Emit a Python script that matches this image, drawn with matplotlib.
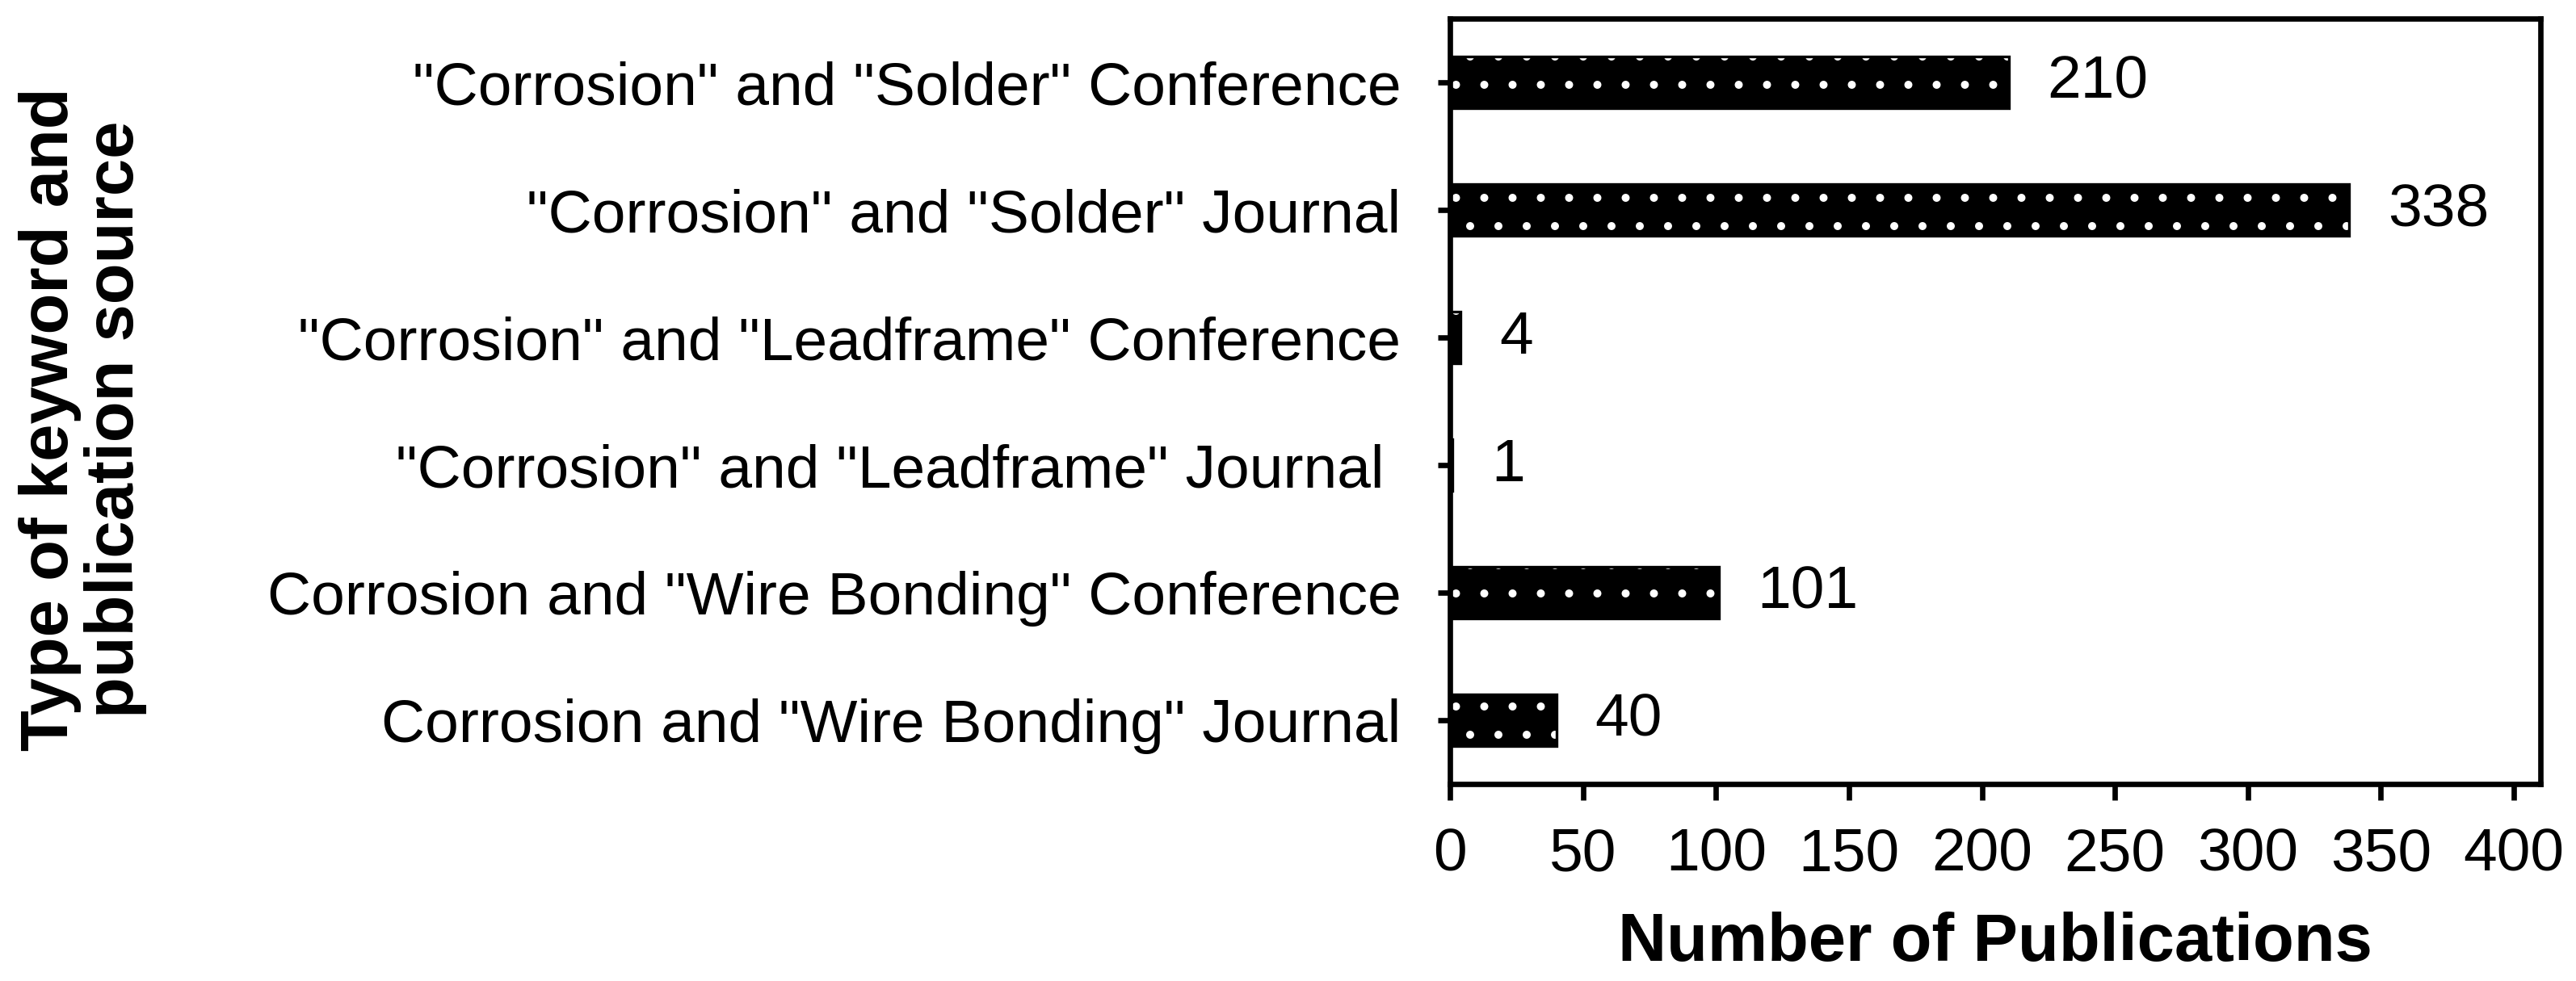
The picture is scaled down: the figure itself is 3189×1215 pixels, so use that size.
import matplotlib.pyplot as plt
import numpy as np

categories = ['"Corrosion" and "Solder" Conference',
              '"Corrosion" and "Solder" Journal',
              '"Corrosion" and "Leadframe" Conference',
              '"Corrosion" and "Leadframe" Journal ',
              'Corrosion and "Wire Bonding" Conference',
              'Corrosion and "Wire Bonding" Journal']
publications = [210, 338, 4, 1, 101, 40]
xticks = [0, 50, 100, 150, 200, 250, 300, 350, 400]

# hatch spacing follows the dpi, so use 210 dpi and scale point sizes to match
DPI = 210
k = 300 / DPI

plt.rcParams['font.family'] = ['Liberation Sans', 'DejaVu Sans']
plt.rcParams['hatch.linewidth'] = 1.0

fig = plt.figure(figsize=(3189 / DPI, 1215 / DPI), dpi=DPI)
ax = fig.add_axes([0.5629, 0.2008, 0.4233, 0.7802])

y = np.arange(len(categories))
ax.barh(y, publications, height=0.4, color='black', edgecolor='white',
        linewidth=0, hatch='.')
ax.barh(y, publications, height=0.4, color='none', edgecolor='black',
        linewidth=0.8 * k)

for yi, v in zip(y, publications):
    ax.annotate(str(v), (v, yi), xytext=(11.5 * k, 0), textcoords='offset points',
                va='center', ha='left', fontsize=18 * k)

ax.set_ylim(len(categories) - 0.5, -0.5)
ax.set_xlim(0, 410)
ax.set_yticks(y)
ax.set_yticklabels(categories, fontsize=18 * k)
ax.set_xticks(xticks)
ax.set_xticklabels([str(t) for t in xticks], fontsize=18 * k)

for s in ax.spines.values():
    s.set_linewidth(1.6 * k)
ax.tick_params(axis='x', direction='out', length=4.8 * k, width=1.6 * k, pad=8 * k)
ax.tick_params(axis='y', direction='out', length=3.6 * k, width=1.6 * k, pad=11 * k)

ax.set_xlabel('Number of Publications', fontsize=20 * k, fontweight='bold')
ax.xaxis.set_label_coords(0.5, -0.167)

fig.text(0.032, 0.573, 'Type of keyword and\npublication source', rotation=90,
         ha='center', va='center', multialignment='center', fontsize=20 * k,
         fontweight='bold', linespacing=1.05)

plt.savefig('out.png', dpi=DPI)
